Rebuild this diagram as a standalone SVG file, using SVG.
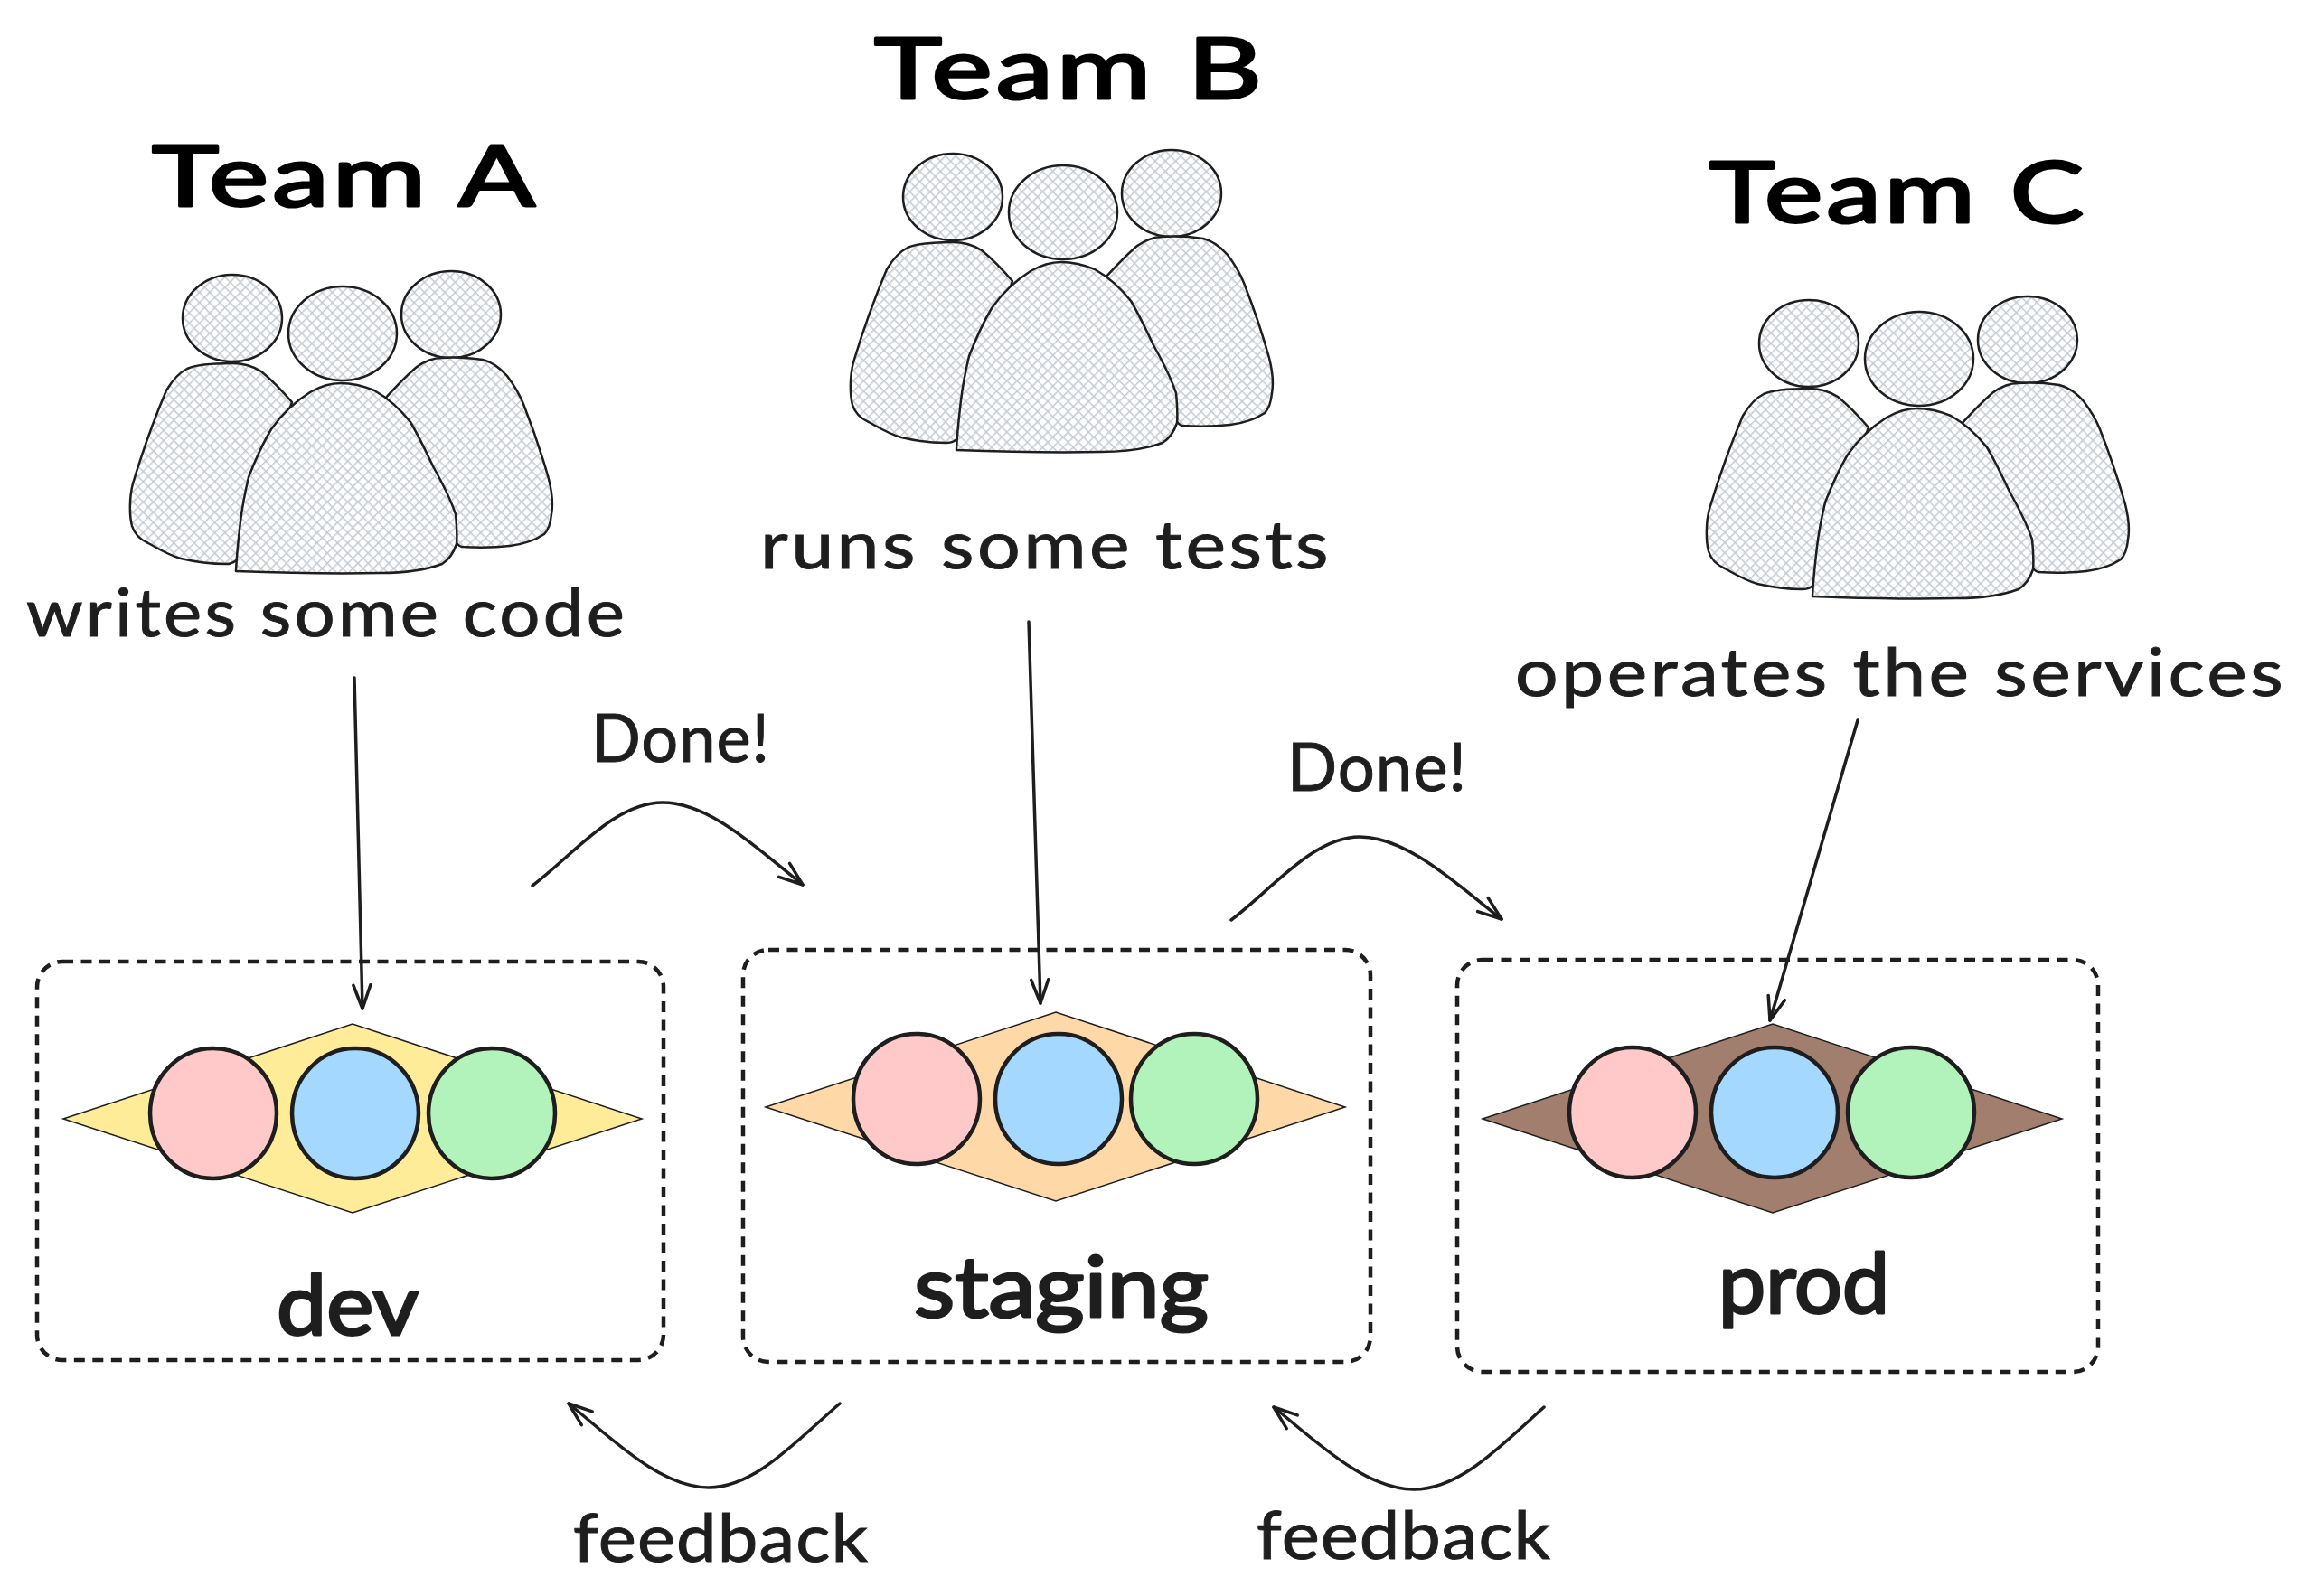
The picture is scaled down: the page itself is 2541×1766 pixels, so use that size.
<svg xmlns="http://www.w3.org/2000/svg" width="2541" height="1766" viewBox="0 0 2541 1766">
<style>
text{font-family:"Lato","Noto Sans","Liberation Sans",sans-serif;fill:#1e1e1e;letter-spacing:3px}
.title{font-size:94px;font-weight:400;fill:#000;stroke:#000;stroke-width:3;stroke-linejoin:round}
.sub{font-size:74px;stroke:#1e1e1e;stroke-width:1}
.env{font-size:94px;font-weight:400;stroke:#1e1e1e;stroke-width:3;stroke-linejoin:round;letter-spacing:0}
.note{font-size:74px;stroke:#1e1e1e;stroke-width:1;letter-spacing:1px}
.person{fill:url(#hatch);stroke:#1e1e1e;stroke-width:2.5;stroke-linejoin:round}
.box{fill:none;stroke:#1e1e1e;stroke-width:4.5;stroke-dasharray:12 8.5}
.dia{stroke:#1e1e1e;stroke-width:1.5}
.c{stroke:#1e1e1e;stroke-width:4.5}
.pink{fill:#ffc9c9}.blue{fill:#a5d8ff}.green{fill:#b2f2bb}
.arrow{fill:none;stroke:#1e1e1e;stroke-width:3.5;stroke-linecap:round;marker-end:url(#head)}
</style>
<defs>
<pattern id="hatch" width="8" height="8" patternUnits="userSpaceOnUse" patternTransform="rotate(45)">
<rect width="8" height="8" fill="#fff"/>
<path d="M0 0H8M0 0V8" stroke="#c3cad2" stroke-width="3" fill="none"/>
</pattern>
<marker id="head" markerUnits="userSpaceOnUse" markerWidth="44" markerHeight="44" refX="30" refY="20" orient="auto" overflow="visible">
<path d="M4 10.5L30 20L4 29.5" fill="none" stroke="#1e1e1e" stroke-width="3.5" stroke-linecap="round" stroke-linejoin="round"/>
</marker>
<g id="people">
<ellipse class="person" cx="257" cy="352" rx="55" ry="48"/>
<ellipse class="person" cx="379" cy="369" rx="60" ry="52"/>
<ellipse class="person" cx="499" cy="348" rx="55" ry="48"/>
<path class="person" d="M323 445C310 430 300 420 289 411C278 404 268 402 257 402C235 402 218 403 207 408C197 413 190 422 184 432C170 465 156 505 147 535C143 550 143 570 146 582C149 592 155 597 164 601C175 607 186 614 200 618C217 622 235 624 250 624C256 624 260 622 263 618Z"/>
<path class="person" d="M425 442C436 430 448 417 461 406C471 399 480 396 489 396C505 395 520 396 534 398C546 401 554 408 561 416C570 428 575 437 579 447C590 475 600 505 607 530C610 542 612 558 610 569C609 580 606 587 602 591C593 597 580 602 564 604C546 606 528 606 511 605C507 604 505 602 504 598Z"/>
<path class="person" d="M261 632C262 610 264 595 266 577C268 560 271 545 275 528C282 510 290 492 300 475C312 458 327 444 343 434C355 427 366 424 377 424C390 424 402 427 414 432C430 441 443 453 454 467C463 482 471 499 479 516C488 532 498 551 504 569C505 580 506 592 505 602C502 611 497 619 489 624C470 631 445 634 421 634C370 635 315 634 261 632Z"/>
</g>
</defs>
<rect width="2541" height="1766" fill="#fff"/>

<g id="team-a">
<text class="title" x="168" y="228" textLength="428" lengthAdjust="spacingAndGlyphs">Team A</text>
<use href="#people"/>
<text class="sub" x="29" y="704" textLength="665" lengthAdjust="spacingAndGlyphs">writes some code</text>
</g>
<g id="team-b">
<text class="title" x="967" y="109" textLength="433" lengthAdjust="spacingAndGlyphs">Team B</text>
<use href="#people" transform="translate(797 -134)"/>
<text class="sub" x="841" y="629" textLength="632" lengthAdjust="spacingAndGlyphs">runs some tests</text>
</g>
<g id="team-c">
<text class="title" x="1891" y="246" textLength="418" lengthAdjust="spacingAndGlyphs">Team C</text>
<use href="#people" transform="translate(1744 28)"/>
<text class="sub" x="1676" y="770" textLength="853" lengthAdjust="spacingAndGlyphs">operates the services</text>
</g>

<g id="env-dev">
<rect class="box" x="41" y="1064" width="693" height="441" rx="28"/>
<polygon class="dia" fill="#ffec99" points="70,1238 390,1133 710,1238 390,1342"/>
<ellipse class="c pink" cx="236" cy="1232" rx="70" ry="72"/>
<ellipse class="c blue" cx="393" cy="1232" rx="70" ry="72"/>
<ellipse class="c green" cx="544" cy="1232" rx="70" ry="72"/>
<text class="env" x="306" y="1477" textLength="157" lengthAdjust="spacingAndGlyphs">dev</text>
</g>
<g id="env-staging">
<rect class="box" x="822" y="1051" width="694" height="456" rx="28"/>
<polygon class="dia" fill="#ffd8a8" points="847,1225 1168,1120 1488,1225 1168,1329"/>
<ellipse class="c pink" cx="1014" cy="1216" rx="70" ry="72"/>
<ellipse class="c blue" cx="1171" cy="1216" rx="70" ry="72"/>
<ellipse class="c green" cx="1321" cy="1216" rx="70" ry="72"/>
<text class="env" x="1011" y="1457" textLength="326" lengthAdjust="spacingAndGlyphs">staging</text>
</g>
<g id="env-prod">
<rect class="box" x="1612" y="1062" width="709" height="456" rx="28"/>
<polygon class="dia" fill="#a27e6e" points="1640,1238 1961,1133 2281,1238 1961,1342"/>
<ellipse class="c pink" cx="1806" cy="1231" rx="70" ry="72"/>
<ellipse class="c blue" cx="1963" cy="1231" rx="70" ry="72"/>
<ellipse class="c green" cx="2114" cy="1231" rx="70" ry="72"/>
<text class="env" x="1901" y="1453" textLength="189" lengthAdjust="spacingAndGlyphs">prod</text>
</g>

<g id="connectors">
<path class="arrow" d="M392 750L401 1116"/>
<path class="arrow" d="M1138 688L1151 1110"/>
<path class="arrow" d="M2055 797L1958 1129"/>
<path class="arrow" d="M589 980C635 945 680 888 733 888C786 888 840 941 888 979"/>
<path class="arrow" d="M1362 1018C1408 983 1453 926 1504 926C1557 926 1612 979 1661 1017"/>
<path class="arrow" d="M929 1553C880 1595 835 1646 784 1646C730 1646 675 1590 629 1553"/>
<path class="arrow" d="M1708 1557C1660 1600 1615 1648 1564 1648C1510 1648 1455 1594 1409 1557"/>
</g>

<g id="labels">
<text class="note" x="654" y="843" textLength="198" lengthAdjust="spacingAndGlyphs">Done!</text>
<text class="note" x="1424" y="875" textLength="199" lengthAdjust="spacingAndGlyphs">Done!</text>
<text class="note" x="634" y="1728" textLength="327" lengthAdjust="spacingAndGlyphs">feedback</text>
<text class="note" x="1390" y="1725" textLength="326" lengthAdjust="spacingAndGlyphs">feedback</text>
</g>
</svg>
